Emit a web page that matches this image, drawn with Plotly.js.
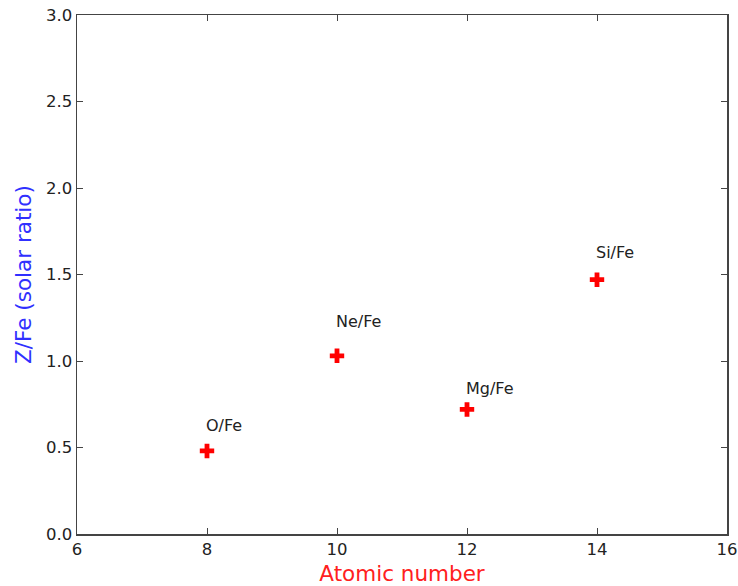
<!DOCTYPE html>
<html><head><meta charset="utf-8">
<script src="https://cdn.plot.ly/plotly-3.0.1.min.js"></script>
<style>html,body{margin:0;padding:0;background:#fff}</style>
</head><body><div id="chart" style="width:738px;height:586px"></div>
<script>
const atomicNumber = [8, 10, 12, 14];
const ratio = [0.48, 1.03, 0.72, 1.47];
const labels = ["O/Fe", "Ne/Fe", "Mg/Fe", "Si/Fe"];
const labelY = [0.63, 1.23, 0.84, 1.63];

const trace = {
  x: atomicNumber, y: ratio, type: 'scatter', mode: 'markers',
  marker: {symbol: 'cross', size: 12, color: '#ff0000', line: {width: 0}},
  hoverinfo: 'skip'
};
const annotations = labels.map((t, i) => ({
  x: atomicNumber[i], y: labelY[i], xref: 'x', yref: 'y',
  text: t, showarrow: false, xanchor: 'left', yanchor: 'middle', xshift: -3,
  font: {family: 'DejaVu Sans', size: 16, color: '#222'}
}));
const axisCommon = {
  showgrid: false, zeroline: false, showline: true, linecolor: '#444', linewidth: 1.5,
  mirror: 'ticks', ticks: 'inside', ticklen: 6, tickcolor: '#444', tickwidth: 1,
  tickfont: {family: 'DejaVu Sans', size: 16.5, color: '#222'}
};
const layout = {
  width: 738, height: 586,
  margin: {l: 77, r: 11, t: 15, b: 52},
  paper_bgcolor: '#fff', plot_bgcolor: '#fff',
  showlegend: false,
  xaxis: Object.assign({}, axisCommon, {range: [6, 16], dtick: 2, tick0: 6,
    title: {text: 'Atomic number', font: {family: 'DejaVu Sans', size: 21.5, color: '#ff2020'}, standoff: 8}}),
  yaxis: Object.assign({}, axisCommon, {range: [0, 3], dtick: 0.5, tickformat: '.1f',
    title: {text: 'Z/Fe (solar ratio)', font: {family: 'DejaVu Sans', size: 21.5, color: '#3030ff'}, standoff: 8}}),
  annotations: annotations
};
Plotly.newPlot('chart', [trace], layout, {displayModeBar: false, staticPlot: true});
</script></body></html>
